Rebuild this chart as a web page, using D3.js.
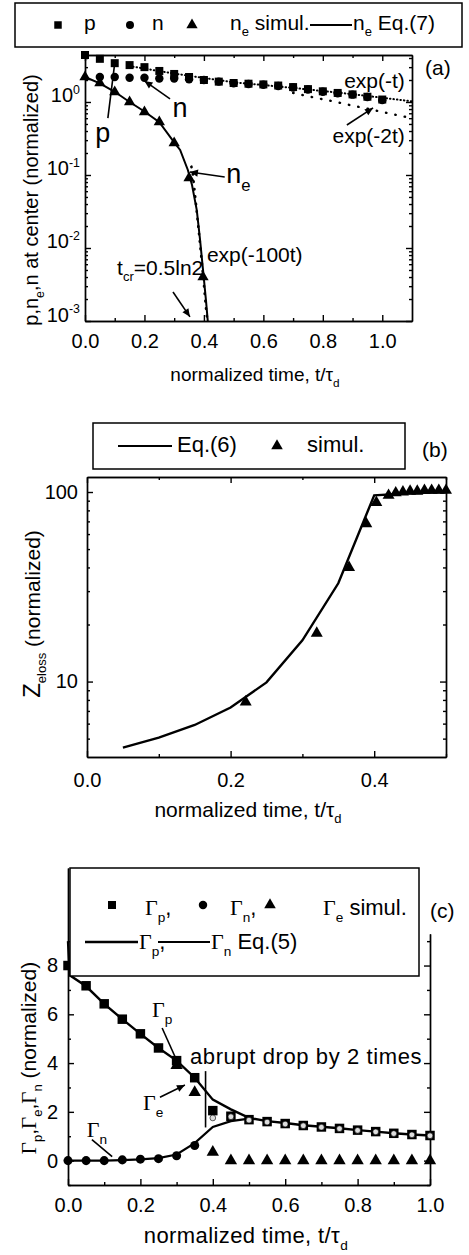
<!DOCTYPE html>
<html>
<head>
<meta charset="utf-8">
<script src="https://cdn.jsdelivr.net/npm/d3@7"></script>
<style>
    body { margin: 0; background: #fff; }
    text { font-family: "Liberation Sans", Arial, sans-serif; fill: #000; }
    .ax path, .ax line { stroke: #000; stroke-width: 1.4; }
</style>
</head>
<body>
<script>
// ---------- panel (a): densities at center ----------
const aSq_t = [0, 0.05, 0.1, 0.15, 0.2, 0.25, 0.3, 0.35, 0.4, 0.45, 0.5, 0.55, 0.6, 0.65, 0.7, 0.75, 0.8, 0.85, 0.9, 0.95, 1.0];
const aSq_p = [4.4, 3.9, 3.4, 3.2, 3.0, 2.66, 2.42, 2.2, 2.0, 1.9, 1.82, 1.78, 1.74, 1.68, 1.6, 1.5, 1.4, 1.33, 1.27, 1.18, 1.08];
const aCi_t = [0.05, 0.1, 0.15, 0.2, 0.25, 0.3, 0.35, 0.4, 0.45, 0.5, 0.55, 0.6, 0.65, 0.7, 0.75, 0.8, 0.85, 0.9, 0.95, 1.0];
const aCi_n = [2.2, 2.2, 2.15, 2.15, 2.1, 2.1, 2.05, 2.0, 1.9, 1.8, 1.76, 1.72, 1.66, 1.58, 1.48, 1.38, 1.32, 1.26, 1.17, 1.06];
const aTr_t = [0, 0.05, 0.1, 0.15, 0.2, 0.25, 0.3, 0.35, 0.397];
const aTr_ne = [2.2, 1.82, 1.37, 1.0, 0.73, 0.53, 0.275, 0.091, 0.004];
const aEq7_t = [0, 0.05, 0.1, 0.15, 0.2, 0.25, 0.3, 0.32, 0.346, 0.36, 0.376, 0.387, 0.397, 0.407, 0.413];
const aEq7_ne = [2.2, 1.8, 1.38, 1.0, 0.74, 0.53, 0.28, 0.22, 0.117, 0.073, 0.033, 0.013, 0.005, 0.0019, 0.001];
const aExp1_t = [0.15, 0.3, 0.5, 0.7, 0.9, 1.1];
const aExp1_v = [3.1, 2.45, 1.86, 1.56, 1.28, 1.02];
const aExp2_t = [0.7, 0.75, 0.8, 0.85, 0.9, 0.95, 1.0, 1.05, 1.1];
const aExp2_v = [1.33, 1.2, 1.09, 0.99, 0.89, 0.81, 0.73, 0.66, 0.6];
const aExp100_t = [0.358, 0.363, 0.372, 0.381, 0.39, 0.399, 0.407, 0.412];
const aExp100_v = [0.13, 0.1, 0.045, 0.02, 0.0085, 0.0035, 0.0015, 0.001];

// ---------- panel (b): Z_eloss ----------
const bEq6_t = [0.05, 0.1, 0.15, 0.2, 0.25, 0.3, 0.35, 0.4, 0.45, 0.5];
const bEq6_z = [4.48, 5.06, 5.9, 7.3, 9.9, 16.5, 33, 96, 98.5, 100];
const bSim_t = [0.221, 0.32, 0.365, 0.389, 0.403, 0.42, 0.43, 0.44, 0.45, 0.46, 0.47, 0.48, 0.49, 0.5];
const bSim_z = [7.8, 18, 40, 68, 88, 96, 99, 100, 101, 101, 102, 102, 102, 102];

// ---------- panel (c): fluxes ----------
const cT = [0, 0.05, 0.1, 0.15, 0.2, 0.25, 0.3, 0.35, 0.4, 0.45, 0.5, 0.55, 0.6, 0.65, 0.7, 0.75, 0.8, 0.85, 0.9, 0.95, 1.0];
const cGp = [8.0, 7.17, 6.43, 5.8, 5.2, 4.62, 4.1, 3.4, 2.05, 1.82, 1.68, 1.6, 1.52, 1.44, 1.38, 1.32, 1.25, 1.19, 1.12, 1.07, 1.03];
const cGn = [0, 0, 0, 0.03, 0.06, 0.08, 0.2, 0.62, 1.75, 1.8, 1.66, 1.58, 1.5, 1.43, 1.37, 1.31, 1.24, 1.18, 1.11, 1.06, 1.02];
const cGe_t = [0.3, 0.35, 0.4, 0.45, 0.5, 0.55, 0.6, 0.65, 0.7, 0.75, 0.8, 0.85, 0.9, 0.95, 1.0];
const cGe = [3.9, 2.8, 0.35, 0, 0, 0, 0, 0, 0, 0, 0, 0, 0, 0, 0];
const cEqP_t = [0, 0.005, 0.05, 0.1, 0.15, 0.2, 0.25, 0.3, 0.35, 0.4, 0.45, 0.5, 0.55, 0.6, 0.65, 0.7, 0.75, 0.8, 0.85, 0.9, 0.95, 1.0];
const cEqP = [9.0, 7.6, 7.15, 6.43, 5.8, 5.2, 4.62, 4.1, 3.4, 2.5, 2.1, 1.75, 1.62, 1.54, 1.45, 1.39, 1.33, 1.25, 1.19, 1.12, 1.07, 1.03];
const cEqN_t = [0, 0.1, 0.15, 0.2, 0.25, 0.3, 0.35, 0.4, 0.45, 0.5];
const cEqN = [0, 0, 0.02, 0.05, 0.1, 0.25, 0.72, 1.38, 1.62, 1.72];

const zip = (xs, ys) => xs.map((x, i) => [x, ys[i]]);

const svg = d3.select("body").append("svg").attr("width", 469).attr("height", 1255);

svg.append("defs").append("marker")
    .attr("id", "arr").attr("viewBox", "0 0 10 10").attr("refX", 10).attr("refY", 5)
    .attr("markerUnits", "userSpaceOnUse").attr("markerWidth", 10).attr("markerHeight", 8)
    .attr("orient", "auto")
    .append("path").attr("d", "M0,0.5 L10,5 L0,9.5 z").attr("fill", "#000");

// text with sub/superscripts and serif Gamma
function rich(t, parts, size) {
    let cur = 0;
    parts.forEach((p) => {
        const [s, k] = Array.isArray(p) ? p : [p, ""];
        const off = k === "sub" ? 0.3 * size : k === "sup" ? -0.42 * size : 0;
        const ts = t.append("tspan").attr("dy", off - cur).text(s);
        if (k === "sub" || k === "sup") ts.attr("font-size", 0.62 * size);
        if (k === "G") ts.style("font-family", "'Liberation Serif', serif");
        cur = off;
    });
    return t;
}
function label(g, x, y, parts, size, anchor = "start", rot = false) {
    const t = g.append("text").attr("font-size", size).attr("text-anchor", anchor);
    if (rot) t.attr("transform", `translate(${x},${y}) rotate(-90)`);
    else t.attr("x", x).attr("y", y);
    return rich(t, parts, size);
}

// box axes with inward ticks on all four sides
function frame(g, x, y, o) {
    const [yb, yt] = y.range();
    const [xl, xr] = x.range();
    const tk = (a, vals, size) => a.tickValues(vals).tickSize(size).tickSizeOuter(0);
    const put = (tr, axis) => g.append("g").attr("class", "ax").attr("transform", tr).call(axis)
        .attr("font-size", 20).attr("font-family", null);
    put(`translate(0,${yb})`, tk(d3.axisBottom(x), o.xMajor, -6).tickPadding(o.xPad).tickFormat(d3.format(".1f")));
    put(`translate(0,${yb})`, tk(d3.axisBottom(x), o.xMinor, -3).tickFormat(""));
    const left = put(`translate(${xl},0)`, tk(d3.axisLeft(y), o.yMajor, -6).tickPadding(o.yPad).tickFormat(o.yFmt));
    put(`translate(${xl},0)`, tk(d3.axisLeft(y), o.yMinor, -3).tickFormat(""));
    if (o.top !== false) {
        put(`translate(0,${yt})`, tk(d3.axisTop(x), o.xMajor, -6).tickFormat(""));
        put(`translate(0,${yt})`, tk(d3.axisTop(x), o.xMinor, -3).tickFormat(""));
    }
    const yr = o.rightScale || y;
    put(`translate(${xr},0)`, tk(d3.axisRight(yr), o.yMajor.filter((v) => v <= yr.domain()[1]), -6).tickFormat(""));
    put(`translate(${xr},0)`, tk(d3.axisRight(yr), o.yMinor.filter((v) => v <= yr.domain()[1]), -3).tickFormat(""));
    return left;
}

function logTicks(lo, hi) {
    const out = [];
    for (let d = lo; d <= hi * 1.0001; d *= 10)
        for (let k = 2; k <= 9; k++) if (k * d <= hi) out.push(k * d);
    return out;
}
function pow10Labels(axisG, size) {
    axisG.selectAll(".tick text").each(function (d) {
        const t = d3.select(this).text(null);
        rich(t, ["10", [String(Math.round(Math.log10(d))), "sup"]], size);
    });
}

const sym = (type, size) => d3.symbol().type(type).size(size);
function points(g, x, y, data, type, size, fill = "#000") {
    g.selectAll(null).data(data).join("path")
        .attr("transform", (d) => `translate(${x(d[0])},${y(d[1])})`)
        .attr("d", sym(type, size)).attr("fill", fill).attr("stroke", fill === "#000" ? "none" : "#000")
        .attr("stroke-width", 0.6);
}
function path(g, x, y, data, w, dash) {
    const p = g.append("path").datum(data)
        .attr("d", d3.line().x((d) => x(d[0])).y((d) => y(d[1])))
        .attr("fill", "none").attr("stroke", "#000").attr("stroke-width", w);
    if (dash) p.attr("stroke-dasharray", dash).attr("stroke-linecap", "round");
    return p;
}
function arrow(g, x, y, from, to, head = true) {
    const l = g.append("line").attr("x1", x(from[0])).attr("y1", y(from[1]))
        .attr("x2", x(to[0])).attr("y2", y(to[1])).attr("stroke", "#000").attr("stroke-width", 1.6);
    if (head) l.attr("marker-end", "url(#arr)");
}

// ================= panel (a) =================
{
    const g = svg.append("g");
    const x = d3.scaleLinear().domain([0, 1.1]).range([85, 412]);
    const y = d3.scaleLog().domain([0.001, 4.4]).range([321, 55]);

    const left = frame(g, x, y, {
        xMajor: [0, 0.2, 0.4, 0.6, 0.8, 1.0], xMinor: [0.1, 0.3, 0.5, 0.7, 0.9],
        yMajor: [0.001, 0.01, 0.1, 1], yMinor: logTicks(0.001, 4.4),
        xPad: 13, yPad: 5, yFmt: (d) => d,
    });
    pow10Labels(left, 20);

    path(g, x, y, zip(aExp1_t, aExp1_v), 2, "0.5,3");
    path(g, x, y, zip(aExp2_t, aExp2_v), 2.4, "0.5,9");
    path(g, x, y, zip(aExp100_t, aExp100_v), 2.6, "0.5,7");
    path(g, x, y, zip(aEq7_t, aEq7_ne), 2);
    points(g, x, y, zip(aSq_t, aSq_p), d3.symbolSquare, 64);
    points(g, x, y, zip(aCi_t, aCi_n), d3.symbolCircle, 56);
    points(g, x, y, zip(aTr_t, aTr_ne), d3.symbolTriangle, 55);

    // annotations
    label(g, x(0.06), y(0.28), ["p"], 27, "middle");
    arrow(g, x, y, [0.077, 0.6], [0.1, 3.4], false);
    label(g, x(0.32), y(0.62), ["n"], 27, "middle");
    arrow(g, x, y, [0.286, 1.1], [0.2, 1.94]);
    label(g, x(0.475), y(0.078), ["n", ["e", "sub"]], 27);
    arrow(g, x, y, [0.47, 0.094], [0.353, 0.11]);
    label(g, x(1.076), y(1.555), ["exp(-t)"], 21, "end");
    label(g, x(1.076), y(0.275), ["exp(-2t)"], 21, "end");
    arrow(g, x, y, [0.881, 0.484], [0.969, 0.83]);
    label(g, x(0.41), y(0.0064), ["exp(-100t)"], 21);
    label(g, x(0.108), y(0.0043), ["t", ["cr", "sub"], "=0.5ln2"], 21);
    arrow(g, x, y, [0.296, 0.0025], [0.353, 0.00114]);

    label(g, 425, 75, ["(a)"], 21);
    label(g, 255, 381, ["normalized time, t/τ", ["d", "sub"]], 19, "middle");
    label(g, 38, 200, ["p,n", ["e", "sub"], ",n at center (normalized)"], 20, "middle", true);

    // legend
    g.append("rect").attr("x", 15).attr("y", 3).attr("width", 447).attr("height", 44)
        .attr("fill", "#fff").attr("stroke", "#000").attr("stroke-width", 1.5);
    const lg = g.append("g");
    lg.append("path").attr("transform", "translate(58,25)").attr("d", sym(d3.symbolSquare, 56)());
    label(lg, 84, 30, ["p"], 21);
    lg.append("path").attr("transform", "translate(130,25)").attr("d", sym(d3.symbolCircle, 50)());
    label(lg, 152, 30, ["n"], 21);
    lg.append("path").attr("transform", "translate(192,25)").attr("d", sym(d3.symbolTriangle, 55)());
    label(lg, 230, 30, ["n", ["e", "sub"], " simul."], 21);
    lg.append("line").attr("x1", 310).attr("x2", 352).attr("y1", 25).attr("y2", 25).attr("stroke", "#000").attr("stroke-width", 2);
    label(lg, 353, 30, ["n", ["e", "sub"], " Eq.(7)"], 21);
}

// ================= panel (b) =================
{
    const g = svg.append("g");
    const x = d3.scaleLinear().domain([0, 0.5]).range([87, 446]);
    const y = d3.scaleLog().domain([4, 120]).range([757, 477]);

    frame(g, x, y, {
        xMajor: [0, 0.2, 0.4], xMinor: [0.1, 0.3, 0.5],
        yMajor: [10, 100], yMinor: [5, 6, 7, 8, 9, 20, 30, 40, 50, 60, 70, 80, 90],
        xPad: 16, yPad: 9, yFmt: d3.format("d"),
    });

    path(g, x, y, zip(bEq6_t, bEq6_z), 2.4);
    points(g, x, y, zip(bSim_t, bSim_z), d3.symbolTriangle, 62);

    label(g, 422, 457, ["(b)"], 21);
    label(g, 248, 817, ["normalized time, t/τ", ["d", "sub"]], 21, "middle");
    const yl = g.append("text").attr("font-size", 21).attr("text-anchor", "middle")
        .attr("transform", "translate(40,614) rotate(-90)");
    rich(yl, [["Z", ""], ["eloss", "sub"], " (normalized)"], 21);
    yl.select("tspan").attr("font-size", 24);

    g.append("rect").attr("x", 93).attr("y", 423).attr("width", 312).attr("height", 46)
        .attr("fill", "#fff").attr("stroke", "#000").attr("stroke-width", 1.5);
    g.append("line").attr("x1", 118).attr("x2", 172).attr("y1", 446).attr("y2", 446).attr("stroke", "#000").attr("stroke-width", 2);
    label(g, 177, 452, ["Eq.(6)"], 22);
    g.append("path").attr("transform", "translate(277,446)").attr("d", sym(d3.symbolTriangle, 58)());
    label(g, 307, 452, ["simul."], 22);
}

// ================= panel (c) =================
{
    const g = svg.append("g");
    const x = d3.scaleLinear().domain([0, 1]).range([68, 430]);
    const y = d3.scaleLinear().domain([-1, 12]).range([1185, 868]);
    const yRight = y.copy().domain([-1, 9.3]).range([y(-1), y(9.3)]);

    frame(g, x, y, {
        xMajor: [0, 0.2, 0.4, 0.6, 0.8, 1.0], xMinor: [0.1, 0.3, 0.5, 0.7, 0.9],
        yMajor: [0, 2, 4, 6, 8], yMinor: [-1, 1, 3, 5, 7, 9],
        xPad: 13, yPad: 10, yFmt: d3.format("d"), top: false, rightScale: yRight,
    });

    path(g, x, y, zip(cEqN_t, cEqN), 2.2);
    path(g, x, y, zip(cEqP_t, cEqP), 2.4);
    points(g, x, y, zip(cT, cGp), d3.symbolSquare, 90);
    const n = zip(cT, cGn);
    points(g, x, y, n.filter((d) => d[0] < 0.4), d3.symbolCircle, 64);
    points(g, x, y, n.filter((d) => d[0] >= 0.4), d3.symbolCircle, 26, "#ddd");
    points(g, x, y, zip(cGe_t, cGe), d3.symbolTriangle, 66);

    // annotations
    label(g, x(0.232), y(5.89), [["Γ", "G"], ["p", "sub"]], 22);
    arrow(g, x, y, [0.26, 5.44], [0.296, 4.25], false);
    arrow(g, x, y, [0.38, 3.67], [0.38, 1.36], false);
    label(g, x(0.337), y(3.96), ["abrupt drop by 2 times"], 22).attr("letter-spacing", 0.6);
    label(g, x(0.207), y(2.07), [["Γ", "G"], ["e", "sub"]], 22);
    arrow(g, x, y, [0.254, 2.6], [0.323, 3.1]);
    label(g, x(0.052), y(0.97), [["Γ", "G"], ["n", "sub"]], 22);
    arrow(g, x, y, [0.066, 0.86], [0.122, 0.16], false);

    label(g, 430, 918, ["(c)"], 21);
    label(g, 246, 1243, ["normalized time, t/τ", ["d", "sub"]], 22, "middle").attr("letter-spacing", 0.4);
    label(g, 36, 1058, [["Γ", "G"], ["p", "sub"], ",", ["Γ", "G"], ["e", "sub"], ",", ["Γ", "G"], ["n", "sub"], " (normalized)"], 21, "middle", true);

    // legend box sits over the top of the plot
    g.append("rect").attr("x", 70).attr("y", 868).attr("width", 349).attr("height", 108)
        .attr("fill", "#fff").attr("stroke", "#000").attr("stroke-width", 1.5);
    g.append("path").attr("transform", "translate(112,905)").attr("d", sym(d3.symbolSquare, 64)());
    label(g, 145, 915, [["Γ", "G"], ["p", "sub"], ","], 22);
    g.append("path").attr("transform", "translate(203,905)").attr("d", sym(d3.symbolCircle, 56)());
    label(g, 230, 915, [["Γ", "G"], ["n", "sub"], ","], 22);
    g.append("path").attr("transform", "translate(270,905)").attr("d", sym(d3.symbolTriangle, 58)());
    label(g, 323, 915, [["Γ", "G"], ["e", "sub"], " simul."], 22);
    g.append("line").attr("x1", 85).attr("x2", 138).attr("y1", 942).attr("y2", 942).attr("stroke", "#000").attr("stroke-width", 2.4);
    label(g, 139, 949, [["Γ", "G"], ["p", "sub"], ","], 22);
    g.append("line").attr("x1", 158).attr("x2", 210).attr("y1", 942).attr("y2", 942).attr("stroke", "#000").attr("stroke-width", 2);
    label(g, 211, 949, [["Γ", "G"], ["n", "sub"], " Eq.(5)"], 22);
}
</script>
</body>
</html>
